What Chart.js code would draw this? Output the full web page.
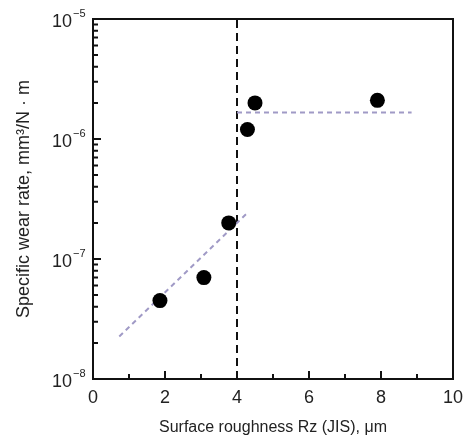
<!DOCTYPE html>
<html><head><meta charset="utf-8">
<script src="https://cdn.jsdelivr.net/npm/chart.js@4"></script>
<style>html,body{margin:0;padding:0;background:#fff}#wrap{width:465px;height:439px}</style>
</head><body><div id="wrap"><canvas id="c" width="465" height="439"></canvas></div>
<script>
const roughness = [1.86, 3.08, 3.77, 4.29, 4.5, 7.9];
const wearRate = [4.5e-8, 7.0e-8, 2.0e-7, 1.2e-6, 2.0e-6, 2.1e-6];
const lowerTrendX = [0.73, 4.3];
const lowerTrendY = [2.26e-8, 2.44e-7];
const upperTrendX = [4.0, 8.85];
const upperTrendY = [1.66e-6, 1.66e-6];
const thresholdX = [4, 4];
const thresholdY = [1e-8, 1e-5];
const xMajorTicks = [0, 2, 4, 6, 8, 10];
const xMinorTicks = [1, 3, 5, 7, 9];
const yMajorTicks = [1e-8, 1e-7, 1e-6, 1e-5];
const yTickBase = '10';
const yTickExponents = ['\u22128', '\u22127', '\u22126', '\u22125'];
const yMinorMultipliers = [2, 3, 4, 5, 6, 7, 8, 9];
const xTitle = 'Surface roughness Rz (JIS), \u03bcm';
const yTitle = 'Specific wear rate, mm\u00b3/N \u00b7 m';

const FONT = "'Liberation Sans', Arial, sans-serif";
const pts = (xs, ys) => xs.map((x, i) => ({x: x, y: ys[i]}));

const framePlugin = {
  id: 'frameTicks',
  afterDraw(chart) {
    const ctx = chart.ctx, a = chart.chartArea;
    const xs = chart.scales.x, ys = chart.scales.y;
    ctx.save();
    ctx.strokeStyle = '#111';
    ctx.lineWidth = 2;
    ctx.strokeRect(a.left, a.top, a.right - a.left, a.bottom - a.top);
    ctx.beginPath();
    xMajorTicks.forEach(v => { const p = xs.getPixelForValue(v); ctx.moveTo(p, a.bottom); ctx.lineTo(p, a.bottom - 8); });
    xMinorTicks.forEach(v => { const p = xs.getPixelForValue(v); ctx.moveTo(p, a.bottom); ctx.lineTo(p, a.bottom - 5); });
    yMajorTicks.forEach(v => { const p = ys.getPixelForValue(v); ctx.moveTo(a.left, p); ctx.lineTo(a.left + 8, p); });
    yMajorTicks.slice(0, -1).forEach(d => {
      yMinorMultipliers.forEach(m => { const p = ys.getPixelForValue(d * m); ctx.moveTo(a.left, p); ctx.lineTo(a.left + 5, p); });
    });
    ctx.stroke();
    ctx.fillStyle = '#222';
    yMajorTicks.forEach((v, i) => {
      const p = ys.getPixelForValue(v);
      ctx.font = '18px ' + FONT;
      ctx.textAlign = 'right';
      ctx.textBaseline = 'middle';
      ctx.fillText(yTickBase, 72, p + 3);
      ctx.font = '11px ' + FONT;
      ctx.textAlign = 'left';
      ctx.fillText(yTickExponents[i], 73, p - 5);
    });
    ctx.restore();
  }
};

new Chart(document.getElementById('c'), {
  type: 'scatter',
  data: {
    datasets: [
      { data: pts(roughness, wearRate), backgroundColor: '#000', borderWidth: 0, pointRadius: 7.5, pointHoverRadius: 7.5 },
      { type: 'line', data: pts(lowerTrendX, lowerTrendY), borderColor: '#a09ac6', borderWidth: 2, borderDash: [5, 4], pointRadius: 0, fill: false },
      { type: 'line', data: pts(upperTrendX, upperTrendY), borderColor: '#a09ac6', borderWidth: 2, borderDash: [5, 4], pointRadius: 0, fill: false },
      { type: 'line', data: pts(thresholdX, thresholdY), borderColor: '#111', borderWidth: 2, borderDash: [8, 5], pointRadius: 0, fill: false }
    ]
  },
  options: {
    responsive: false,
    animation: false,
    layout: { padding: { top: 19, right: 12, left: 0, bottom: 0 } },
    plugins: { legend: { display: false }, tooltip: { enabled: false } },
    scales: {
      x: {
        type: 'linear', min: 0, max: 10,
        afterBuildTicks: s => { s.ticks = xMajorTicks.map(v => ({value: v})); },
        afterFit: s => { s.height = 60; s.paddingRight = 0; s.paddingLeft = 0; },
        grid: { display: false, drawTicks: false },
        border: { display: false },
        ticks: { color: '#222', font: { family: FONT, size: 18 }, padding: 8, maxRotation: 0 },
        title: { display: true, text: xTitle, color: '#222', font: { family: FONT, size: 16 }, padding: { top: 0, bottom: 2 } }
      },
      y: {
        type: 'logarithmic', min: 1e-8, max: 1e-5,
        afterFit: s => { s.width = 93; },
        grid: { display: false, drawTicks: false },
        border: { display: false },
        ticks: { display: false },
        title: { display: true, text: yTitle, color: '#222', font: { family: FONT, size: 18 }, padding: { top: 13, bottom: 0 } }
      }
    }
  },
  plugins: [framePlugin]
});
</script>
</body></html>
